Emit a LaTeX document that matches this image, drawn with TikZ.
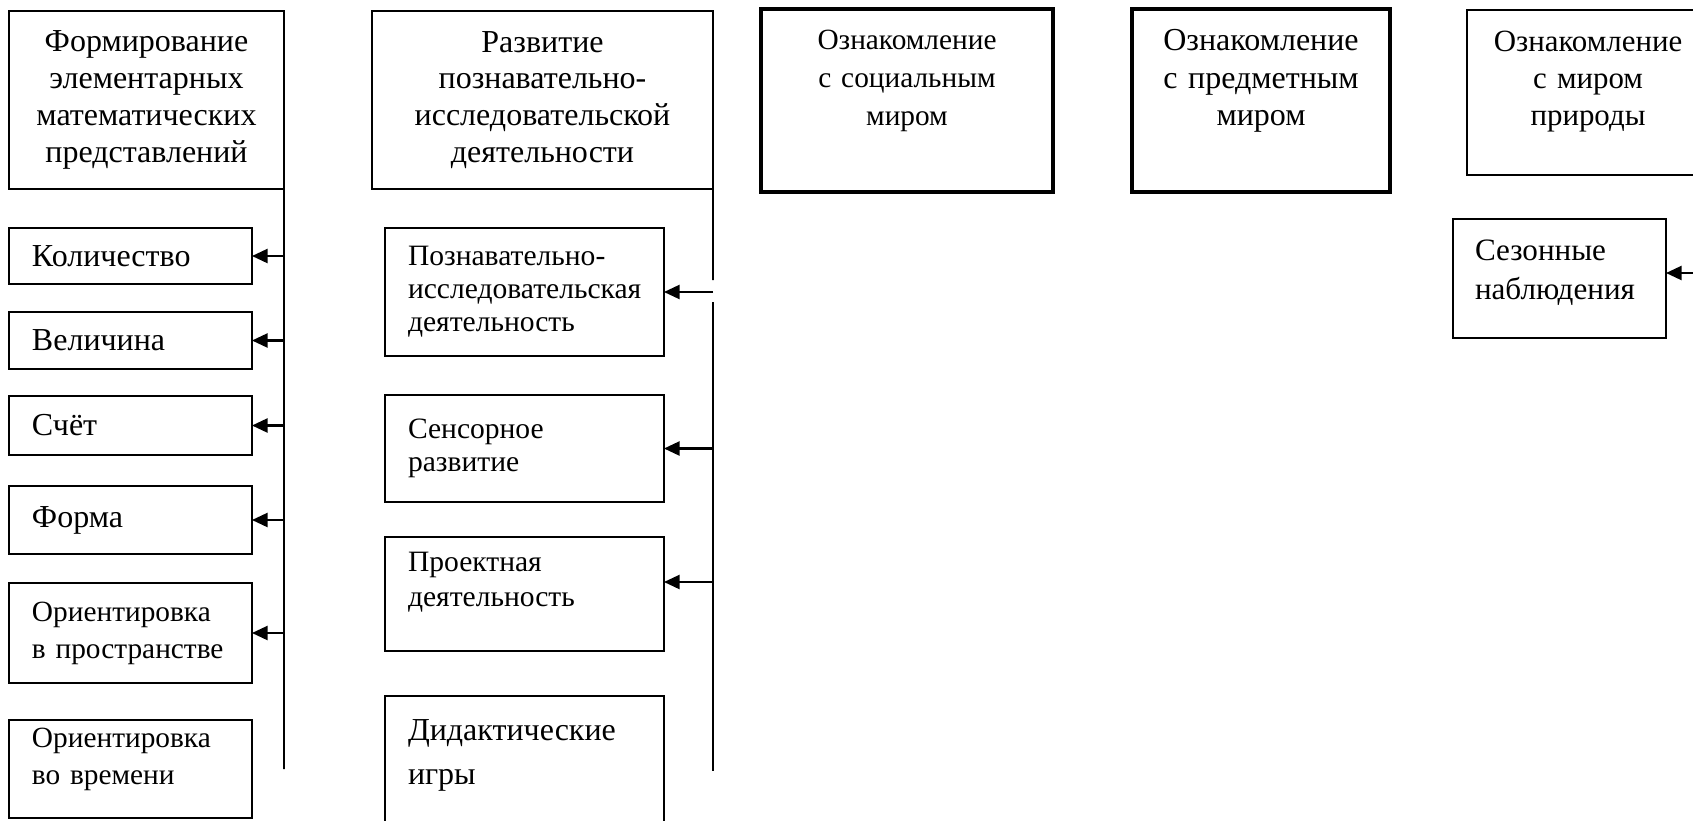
\documentclass[tikz,border=0pt]{standalone}
\usepackage{fontspec}
\setmainfont{Liberation Serif}
\usetikzlibrary{arrows.meta}

% one pixel of the layout grid
\newcommand{\pxl}{0.45pt}

\tikzset{
  headbox/.style={draw, line width=0.8pt, anchor=north west, align=center, outer sep=0pt,
    inner xsep=10*\pxl, inner ysep=0pt, font=\fontsize{14.4}{16.6}\selectfont},
  itembox/.style={draw, line width=0.8pt, anchor=north west, align=left, outer sep=0pt,
    inner xsep=23*\pxl, inner ysep=0pt, font=\fontsize{14.4}{16.6}\selectfont},
  thickbox/.style={headbox, line width=1.8pt},
  pushup/.style={execute at end node={\par\vspace*{#1}}},
  arr/.style={-{Triangle[length=7pt,width=6.3pt]}, line width=1pt}
}

\begin{document}
\begin{tikzpicture}[x=0.45pt, y=-0.45pt]

\useasboundingbox (0,0) rectangle (1693,820);
\clip (0,0) rectangle (1693,820);

% Left column: mathematics
\node[headbox, text width=255*\pxl, minimum height=178*\pxl] (fempBox) at (9,11)
  {Формирование\\ элементарных\\ математических\\ представлений};

\node[itembox, text width=197*\pxl, minimum height=56*\pxl] (kolich) at (9,228) {Количество};
\node[itembox, text width=197*\pxl, minimum height=57*\pxl] (velich) at (9,312) {Величина};
\node[itembox, text width=197*\pxl, minimum height=59*\pxl] (schet) at (9,396) {Счёт};
\node[itembox, text width=197*\pxl, minimum height=68*\pxl] (forma) at (9,486) {Форма};
\node[itembox, text width=197*\pxl, minimum height=100*\pxl,
  font=\fontsize{13.2}{16.6}\selectfont] (orProstr) at (9,583)
  {Ориентировка\\ в пространстве};
\node[itembox, text width=197*\pxl, minimum height=98*\pxl, pushup=9pt,
  font=\fontsize{13.2}{16.6}\selectfont] (orVrem) at (9,720)
  {Ориентировка\\ во времени};

% Middle column: research activity
\node[headbox, text width=321*\pxl, minimum height=178*\pxl] (razvBox) at (372,11)
  {Развитие\\ познавательно-\\ исследовательской\\ деятельности};

\node[itembox, text width=233*\pxl, minimum height=128*\pxl,
  font=\fontsize{13.3}{14.8}\selectfont] (pid) at (385,228)
  {Познавательно-\\ исследовательская\\ деятельность};
\node[itembox, text width=233*\pxl, minimum height=107*\pxl,
  font=\fontsize{13.3}{15}\selectfont] (sensor) at (385,395)
  {Сенсорное\\ развитие};
\node[itembox, text width=233*\pxl, minimum height=114*\pxl, pushup=10.8pt,
  font=\fontsize{13.3}{16}\selectfont] (proekt) at (385,537)
  {Проектная\\ деятельность};
\node[itembox, text width=233*\pxl, minimum height=150*\pxl, pushup=14pt,
  font=\fontsize{14.4}{20.2}\selectfont] (didakt) at (385,696)
  {Дидактические\\ игры};

% Right part: acquaintance boxes
\node[thickbox, text width=272*\pxl, minimum height=183*\pxl, pushup=17.5pt,
  font=\fontsize{13.2}{17.1}\selectfont] (socBox) at (761,9)
  {Ознакомление\\ с социальным\\ миром};
\node[thickbox, text width=238*\pxl, minimum height=183*\pxl, pushup=17.5pt,
  font=\fontsize{14.4}{16.8}\selectfont] (predmBox) at (1132,9)
  {Ознакомление\\ с предметным\\ миром};
\node[headbox, text width=222*\pxl, minimum height=165*\pxl, pushup=10pt,
  font=\fontsize{13.9}{16.6}\selectfont] (prirBox) at (1467,10)
  {Ознакомление\\ с миром\\ природы};

\node[itembox, text width=169*\pxl, inner xsep=22*\pxl, minimum height=119*\pxl, pushup=5pt,
  font=\fontsize{14}{17.5}\selectfont] (sezon) at (1453,219)
  {Сезонные\\ наблюдения};

% Trunk lines
\coordinate (trunkAbot) at (284,769);
\coordinate (trunkBgapTop) at (713,280);
\coordinate (trunkBgapBot) at (713,302);
\coordinate (trunkBbot) at (713,771);
\coordinate (trunkC) at (1712,273);

\draw[line width=0.8pt] (fempBox.south east) -- (trunkAbot);
\draw[line width=0.8pt] (razvBox.south east) -- (trunkBgapTop);
\draw[line width=0.8pt] (trunkBgapBot) -- (trunkBbot);

% Arrows into the items
\foreach \b in {kolich, velich, schet, forma, orProstr}
  \draw[arr] (\b.east -| trunkAbot) -- (\b.east);

\foreach \b in {pid, sensor}
  \draw[arr] (\b.east -| trunkBbot) -- (\b.east);
\draw[arr] ([yshift=5.4pt]proekt.east -| trunkBbot) -- ([yshift=5.4pt]proekt.east);

\draw[arr] (trunkC) -- (sezon.east |- trunkC);

\end{tikzpicture}
\end{document}
